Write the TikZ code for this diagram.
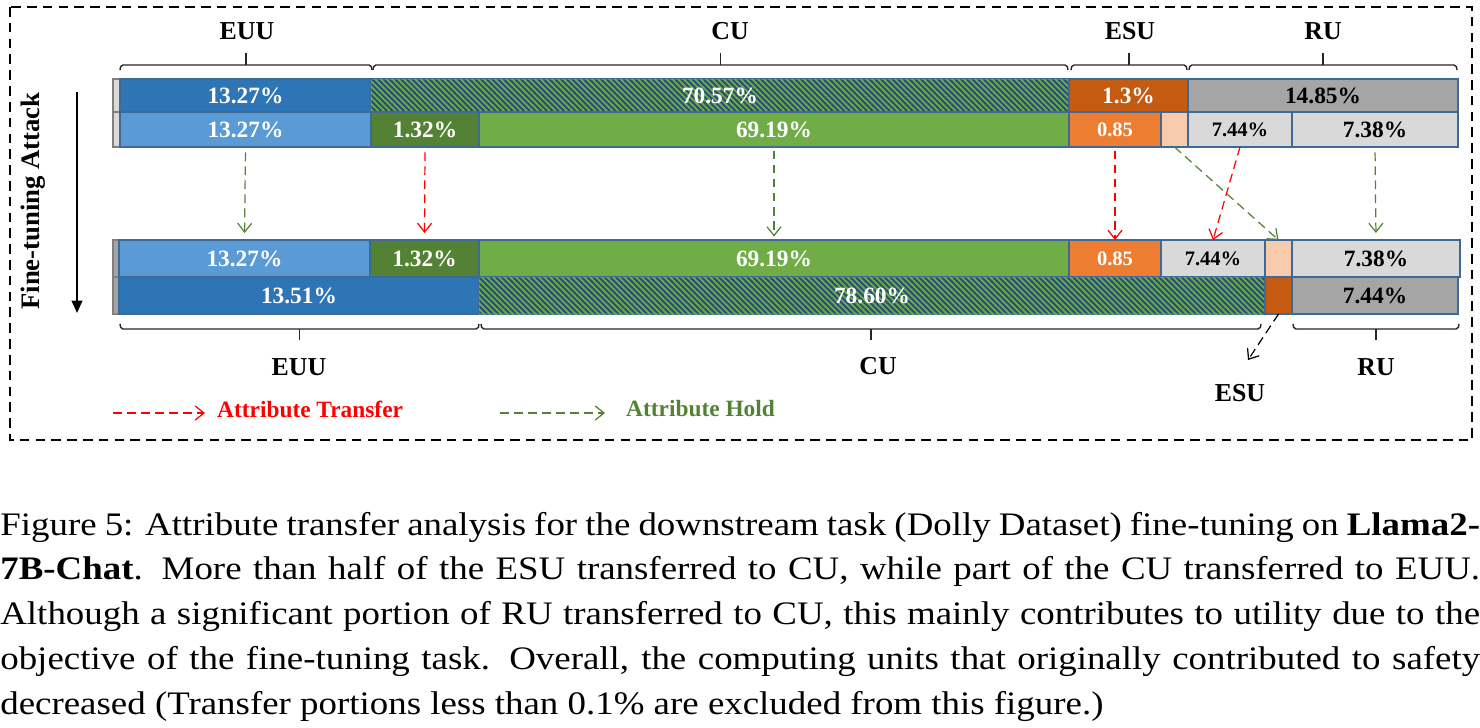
\documentclass[tikz,border=0pt]{standalone}
\usepackage{fontspec}
\setmainfont{Liberation Serif}
\usetikzlibrary{arrows.meta,patterns.meta}
\definecolor{cdblue}{HTML}{2E75B6}
\definecolor{clblue}{HTML}{5B9BD5}
\definecolor{cdgreen}{HTML}{548235}
\definecolor{cgreen}{HTML}{70AD47}
\definecolor{cdorange}{HTML}{C55A11}
\definecolor{corange}{HTML}{ED7D31}
\definecolor{cpeach}{HTML}{F8CBAD}
\definecolor{cgrey}{HTML}{A5A5A5}
\definecolor{clgrey}{HTML}{D9D9D9}
\definecolor{cedge}{HTML}{3E6A95}
\definecolor{chatch}{HTML}{264F78}
\tikzset{
  seg/.style={draw=cedge, line width=0.8pt, inner sep=0pt, outer sep=0pt,
    text=white, font=\bfseries\fontsize{13.3}{14}\selectfont},
  dark/.style={text=black},
  small/.style={font=\bfseries\fontsize{11.7}{13}\selectfont},
  hatched/.style={fill=chatch, postaction={pattern={Lines[angle=-45,distance=2.3pt,line width=1pt]}, pattern color=cgreen}},
  brk/.style={line width=0.8pt, black!85},
  lbl/.style={font=\bfseries\fontsize{14.7}{16}\selectfont},
  xfer/.style={red, line width=0.7pt, dash pattern=on 5pt off 3pt, shorten <=2pt, shorten >=2pt, -{Straight Barb[length=5pt,width=8pt]}},
  hold/.style={xfer, draw=cdgreen},
  frame/.style={line width=1.1pt, dash pattern=on 5.5pt off 3.5pt}
}
\def\seg(#1)[#2](#3:#4:#5:#6)#7{%
  \pgfmathsetmacro\segw{(#4-#3)*0.02}%
  \pgfmathsetmacro\segh{(#6-#5)*0.02}%
  \node[seg,#2,minimum width=\segw cm,minimum height=\segh cm] (#1) at ({(#3+#4)/2},{(#5+#6)/2}) {#7};}
\def\topbrk(#1:#2){%
  \draw[brk] (#1,70) to[out=90,in=180] ({#1+3},65) -- ({#2-3},65) to[out=0,in=90] (#2,70);
  \draw[brk] ({(#1+#2)/2},65) -- ({(#1+#2)/2},53);}
\def\botbrk(#1:#2){%
  \draw[brk] (#1,324) to[out=-90,in=180] ({#1+3},329) -- ({#2-3},329) to[out=0,in=-90] (#2,324);
  \draw[brk] ({(#1+#2)/2},329) -- ({(#1+#2)/2},340);}

\begin{document}
\begin{tikzpicture}[x=0.02cm,y=-0.02cm]
		\useasboundingbox (0,0) rectangle (1480,727);
		%%%%% FRAME %%%%%
		\draw[frame] (10,7) rectangle (1472,440);
		
		\node[lbl,rotate=90,font=\bfseries\fontsize{15.2}{16}\selectfont] (atk) at (33,201) {Fine-tuning Attack};
		\coordinate (atkTop) at (77,92);
		\coordinate (atkBot) at (77,313);
		\draw[line width=1.2pt,-{Triangle[length=7pt,width=6pt]}] (atkTop) -- (atkBot);
		
		%%%%% BEFORE %%%%%
		\topbrk(120:372)
		\topbrk(373:1068)
		\topbrk(1071:1187)
		\topbrk(1189:1457)
		\node[lbl] (euuTop) at (247,31) {EUU};
		\node[lbl] (cuTop) at (730,31) {CU};
		\node[lbl] (esuTop) at (1130,31) {ESU};
		\node[lbl] (ruTop) at (1323,31) {RU};
		
		\seg(padA)[fill=clgrey,draw=gray](113:120:79:112){}
		\seg(euuA)[fill=cdblue](120:371:79:112){13.27\%}
		\seg(cuA)[hatched](371:1069:79:112){70.57\%}
		\seg(esuA)[fill=cdorange](1069:1188:79:112){1.3\%}
		\seg(ruA)[fill=cgrey,dark](1188:1458:79:112){14.85\%}
		
		\seg(padB)[fill=clgrey,draw=gray](113:120:112:147){}
		\seg(euuB)[fill=clblue](120:371:112:147){13.27\%}
		\seg(cuxB)[fill=cdgreen](371:479:112:147){1.32\%}
		\seg(cuB)[fill=cgreen](479:1069:112:147){69.19\%}
		\seg(esuB)[fill=corange,small](1069:1161:112:147){0.85}
		\seg(esupB)[fill=cpeach](1161:1188:112:147){}
		\seg(ruaB)[fill=clgrey,dark,small](1188:1292:112:147){7.44\%}
		\seg(rubB)[fill=clgrey,dark](1292:1458:112:147){7.38\%}
		
		%%%%% AFTER %%%%%
		\seg(padC)[fill=cgrey,draw=gray](113:119:240:277){}
		\seg(euuC)[fill=clblue](119:370:240:277){13.27\%}
		\seg(cuxC)[fill=cdgreen](370:479:240:277){1.32\%}
		\seg(cuC)[fill=cgreen](479:1069:240:277){69.19\%}
		\seg(esuC)[fill=corange,small](1069:1161:240:277){0.85}
		\seg(ruaC)[fill=clgrey,dark,small](1161:1265:240:277){7.44\%}
		\seg(esupC)[fill=cpeach](1265:1292:240:277){}
		\seg(rubC)[fill=clgrey,dark](1292:1460:240:277){7.38\%}
		
		\seg(padD)[fill=cgrey,draw=gray](113:119:277:314){}
		\seg(euuD)[fill=cdblue](119:479:277:314){13.51\%}
		\seg(cuD)[hatched](479:1265:277:314){78.60\%}
		\seg(esuD)[fill=cdorange](1265:1292:277:314){}
		\seg(ruD)[fill=cgrey,dark](1292:1458:277:314){7.44\%}
		
		\botbrk(120:479)
		\botbrk(481:1261)
		\botbrk(1293:1459)
		\node[lbl] (euuBot) at (299,367) {EUU};
		\node[lbl] (cuBot) at (878,366) {CU};
		\node[lbl] (ruBot) at (1376,367) {RU};
		\node[lbl] (esuBot) at (1240,393) {ESU};
		\coordinate (esuTip) at (1248,360);
		
		%%%%% TRANSFERS %%%%%
		\draw[hold,shorten <=3pt,shorten >=4pt] (euuB.south) -- (euuC.north);
		\draw[xfer,shorten <=3pt,shorten >=4pt] (cuxB.south) -- (cuxC.north);
		\draw[hold] (cuB.south) -- (cuC.north);
		\draw[xfer,shorten >=0pt] (esuB.south) -- (esuC.north);
		\draw[xfer,shorten <=0pt,shorten >=0pt] (ruaB.south) -- (ruaC.north);
		\draw[hold,shorten <=0pt,shorten >=0pt] (esupB.south) -- (esupC.north);
		\draw[hold,shorten <=3pt,shorten >=4pt] (rubB.south) -- (rubC.north);
		\draw[xfer,draw=black,shorten <=0pt,shorten >=0pt] (esuD.south) -- (esuTip);
		
		%%%%% LEGEND %%%%%
		\coordinate (lgTa) at (113,413);
		\coordinate (lgTb) at (205,413);
		\draw[xfer,shorten <=0pt,shorten >=0pt] (lgTa) -- (lgTb);
		\node[lbl,red,anchor=west,font=\bfseries\fontsize{13.3}{14}\selectfont] (lgT) at (211,409) {Attribute Transfer};
		\coordinate (lgHa) at (500,413);
		\coordinate (lgHb) at (605,413);
		\draw[hold,shorten <=0pt,shorten >=0pt] (lgHa) -- (lgHb);
		\node[lbl,cdgreen,anchor=west,font=\bfseries\fontsize{13.3}{14}\selectfont] (lgH) at (620,409) {Attribute Hold};
		
		%%%%% CAPTION %%%%%
		\node[anchor=base west,inner sep=0pt] (cap) at (0,535)
		  {\scalebox{1}[0.89]{\parbox[t]{29.6cm}{\fontsize{21}{28.7}\selectfont
		  Figure 5: Attribute transfer analysis for the downstream task (Dolly Dataset) fine-tuning on \textbf{Llama2-}\linebreak\textbf{7B-Chat}.  More than half of the ESU transferred to CU, while part of the CU transferred to EUU.\linebreak Although a significant portion of RU transferred to CU, this mainly contributes to utility due to the\linebreak objective of the fine-tuning task.  Overall, the computing units that originally contributed to safety\linebreak decreased (Transfer portions less than 0.1\% are excluded from this figure.)}}};
	\end{tikzpicture}
\end{document}
